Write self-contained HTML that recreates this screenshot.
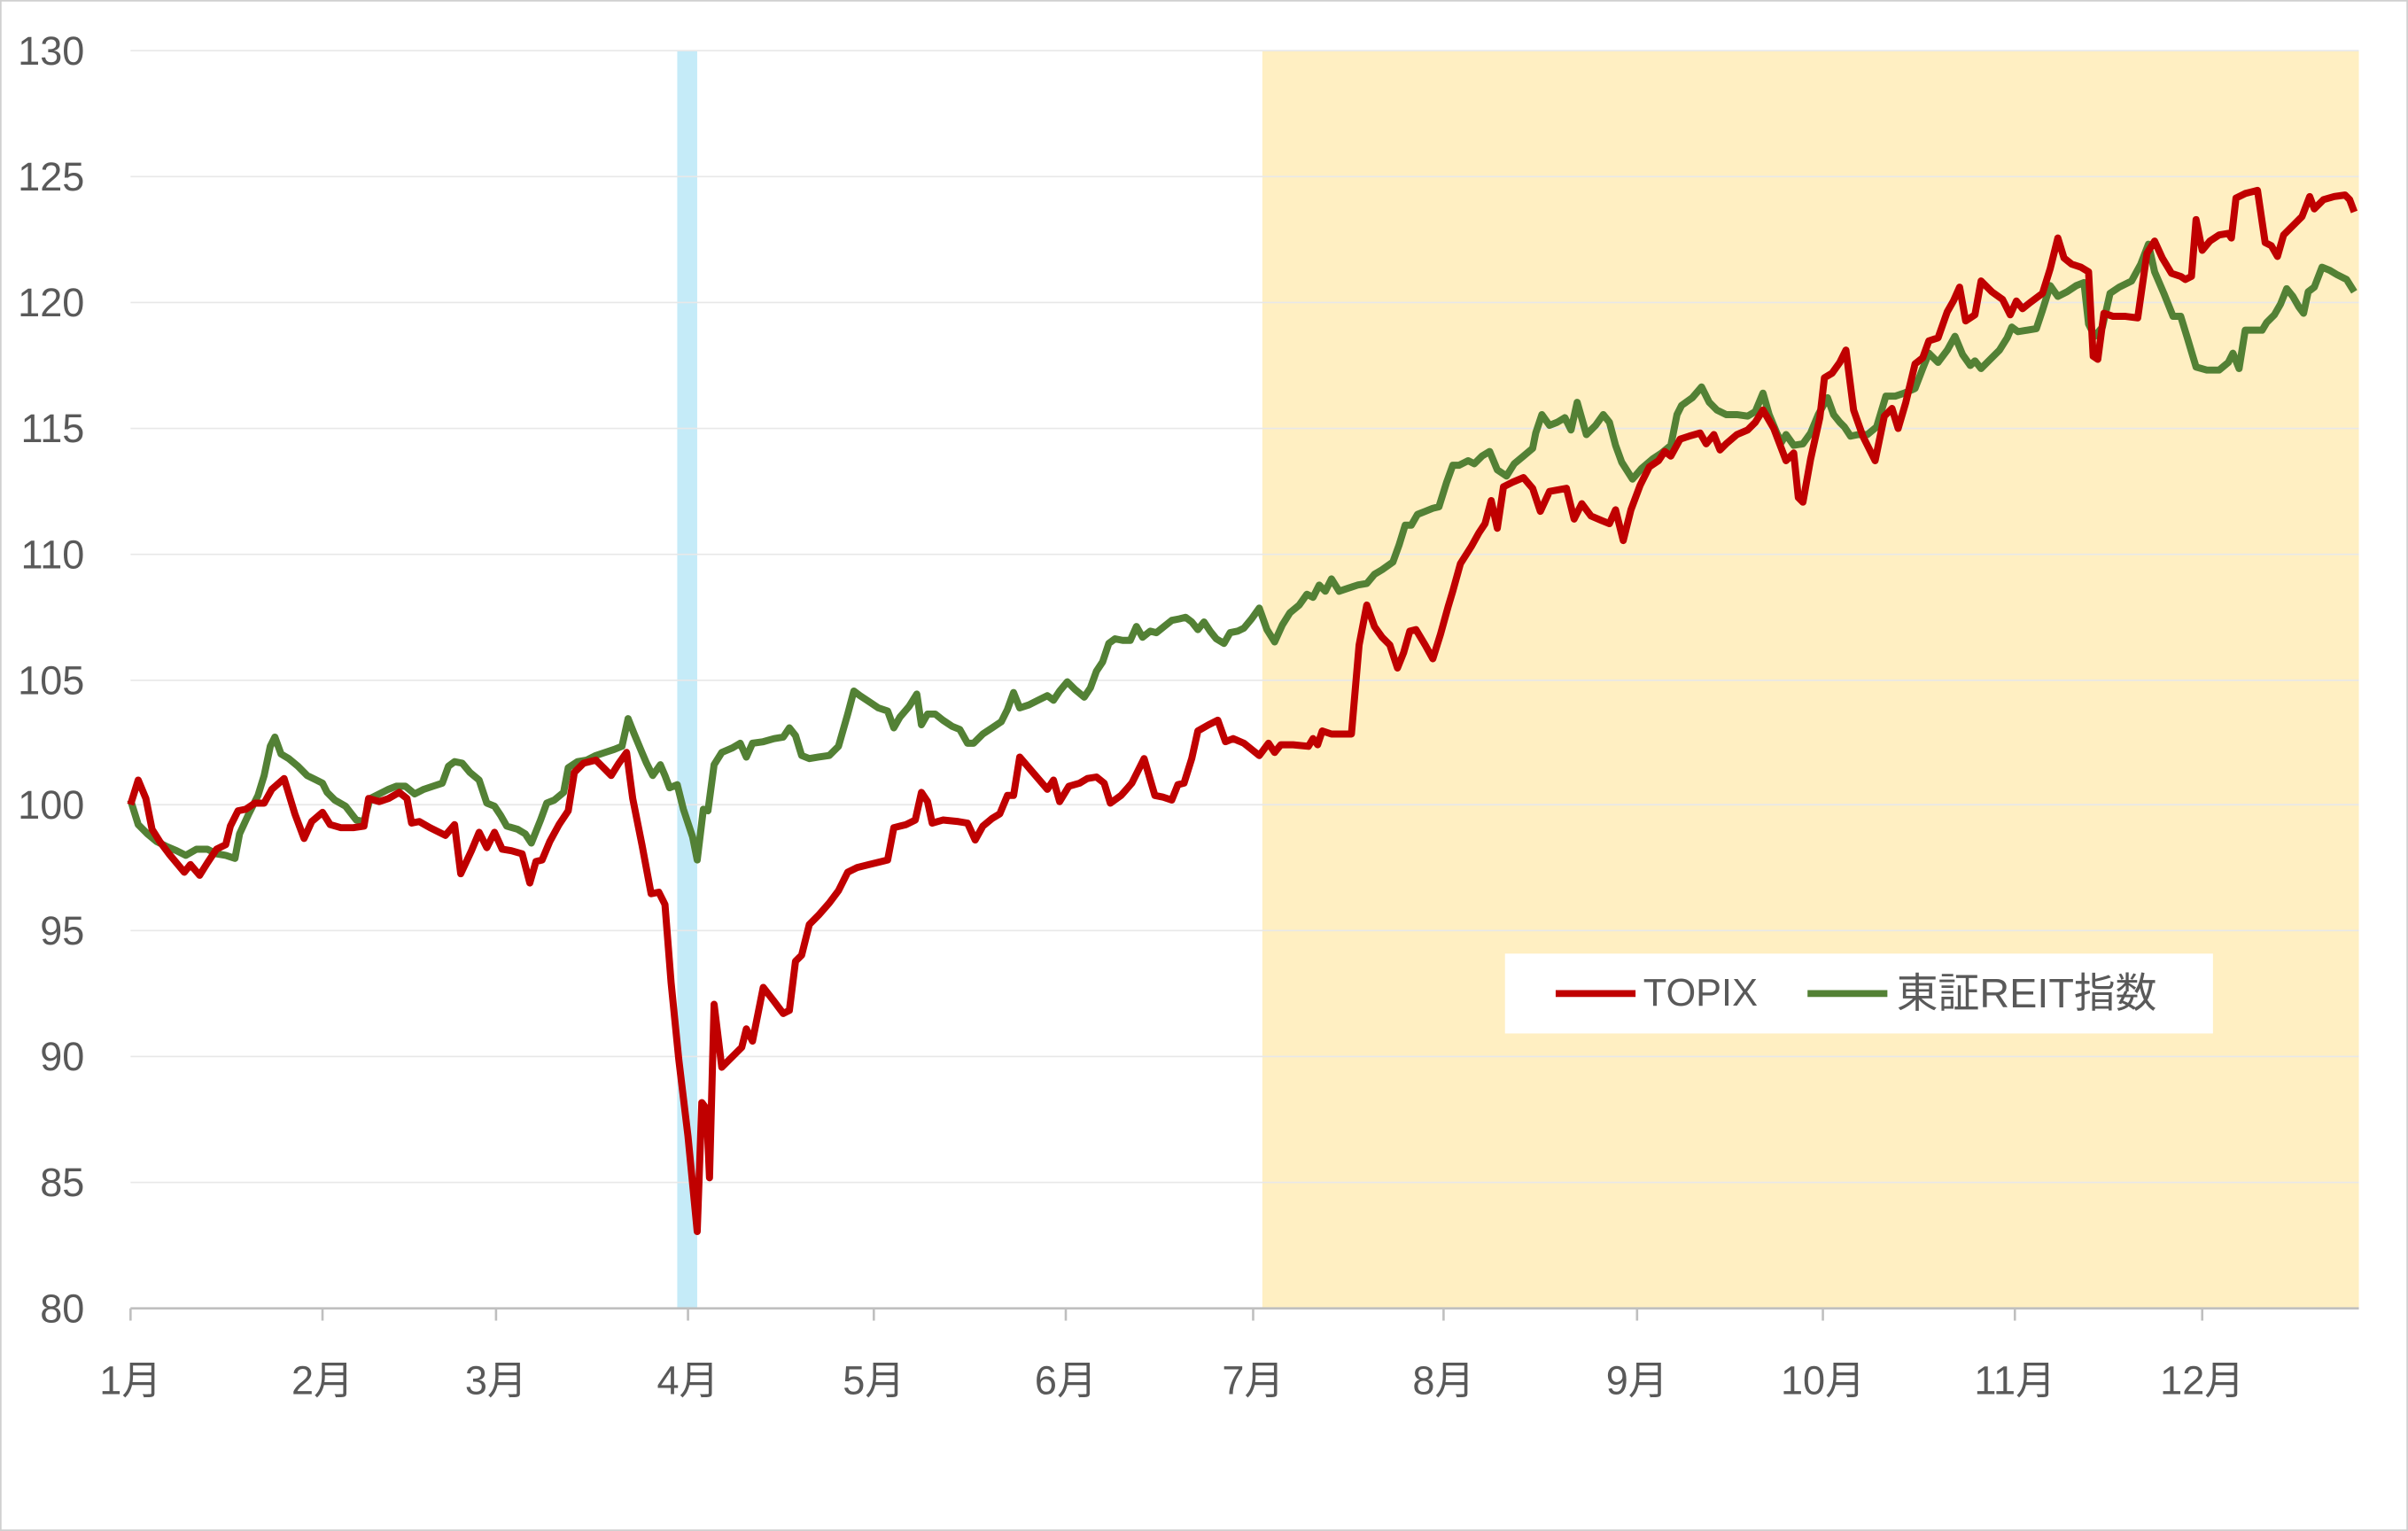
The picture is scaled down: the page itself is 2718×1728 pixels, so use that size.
<!DOCTYPE html>
<html><head><meta charset="utf-8"><style>
html,body{margin:0;padding:0;background:#fff;}
svg{display:block;}
text{font-family:"Liberation Sans","Noto Sans CJK JP",sans-serif;fill:#595959;}
</style></head><body>
<svg width="2718" height="1728" viewBox="0 0 1568 997" preserveAspectRatio="none" xmlns="http://www.w3.org/2000/svg">
<rect x="0.5" y="0.5" width="1567" height="996" fill="#fff" stroke="#d0d0d0" stroke-width="1"/>
<rect x="822" y="33" width="714" height="819" fill="#FFEFC2"/>
<rect x="441" y="33" width="13" height="819" fill="#C5EBF8"/>
<g stroke="#e8e8e8" stroke-width="1">
<line x1="85" y1="33" x2="1536" y2="33"/><line x1="85" y1="115" x2="1536" y2="115"/>
<line x1="85" y1="197" x2="1536" y2="197"/><line x1="85" y1="279" x2="1536" y2="279"/>
<line x1="85" y1="361" x2="1536" y2="361"/><line x1="85" y1="443" x2="1536" y2="443"/>
<line x1="85" y1="524" x2="1536" y2="524"/><line x1="85" y1="606" x2="1536" y2="606"/>
<line x1="85" y1="688" x2="1536" y2="688"/><line x1="85" y1="770" x2="1536" y2="770"/>
</g>
<line x1="85" y1="852" x2="1536" y2="852" stroke="#bfbfbf" stroke-width="1.5"/>
<g stroke="#bfbfbf" stroke-width="1.5">
<line x1="85" y1="852" x2="85" y2="860"/><line x1="210" y1="852" x2="210" y2="860"/><line x1="323" y1="852" x2="323" y2="860"/><line x1="448" y1="852" x2="448" y2="860"/><line x1="569" y1="852" x2="569" y2="860"/><line x1="694" y1="852" x2="694" y2="860"/><line x1="816" y1="852" x2="816" y2="860"/><line x1="940" y1="852" x2="940" y2="860"/><line x1="1066" y1="852" x2="1066" y2="860"/><line x1="1187" y1="852" x2="1187" y2="860"/><line x1="1312" y1="852" x2="1312" y2="860"/><line x1="1434" y1="852" x2="1434" y2="860"/>
</g>
<g font-size="26" text-anchor="end">
<text x="55" y="42">130</text><text x="55" y="124">125</text><text x="55" y="206">120</text><text x="55" y="288">115</text><text x="55" y="370">110</text><text x="55" y="452">105</text><text x="55" y="533">100</text><text x="55" y="615">95</text><text x="55" y="697">90</text><text x="55" y="779">85</text><text x="55" y="861">80</text>
</g>
<g font-size="26" text-anchor="middle">
<text x="85" y="908">1月</text><text x="210" y="908">2月</text><text x="323" y="908">3月</text><text x="448" y="908">4月</text><text x="569" y="908">5月</text><text x="694" y="908">6月</text><text x="816" y="908">7月</text><text x="940" y="908">8月</text><text x="1066" y="908">9月</text><text x="1187" y="908">10月</text><text x="1312" y="908">11月</text><text x="1434" y="908">12月</text>
</g>
<polyline fill="none" stroke="#538135" stroke-width="4.6" stroke-linejoin="round" points="85,521 90,537 96,543 102,548 108,551 115,554 121,557 128,553 135,553 141,556 147,557 153,559 156,543 162,530 168,518 172,505 176,486 179,480 183,491 188,494 194,499 200,505 206,508 210,510 213,516 218,521 225,525 232,534 237,535 241,520 247,517 253,514 258,512 264,512 270,517 276,514 282,512 288,510 292,499 296,496 301,497 306,503 312,508 317,523 322,525 326,531 330,538 337,540 342,543 346,549 352,534 356,523 361,521 367,516 370,500 376,496 382,495 388,492 394,490 400,488 405,486 409,468 413,478 418,490 421,497 425,505 430,498 433,505 436,513 441,511 445,527 451,545 454,560 458,527 461,528 465,498 470,490 477,487 482,484 486,493 490,484 497,483 504,481 510,480 514,474 518,479 522,492 527,494 533,493 540,492 546,486 552,465 556,450 560,453 566,457 572,461 578,463 582,474 586,467 592,460 597,452 600,472 604,465 609,465 614,469 620,473 625,475 630,484 634,484 640,478 646,474 652,470 656,462 660,451 664,461 670,459 676,456 682,453 686,456 690,450 695,444 700,449 706,454 710,448 714,437 718,431 722,419 726,416 731,417 736,417 740,408 744,415 749,411 753,412 758,408 763,404 768,403 772,402 776,405 780,410 784,405 788,411 792,416 797,419 801,412 806,411 810,409 815,403 820,396 825,410 830,418 835,407 840,399 846,394 851,387 855,389 859,381 863,385 867,377 872,385 878,383 884,381 890,380 895,374 900,371 907,366 911,355 915,342 919,342 923,335 928,333 933,331 937,330 942,314 946,303 950,303 956,300 960,302 965,297 970,294 975,306 981,310 986,302 992,297 998,292 1000,282 1004,270 1009,277 1014,275 1019,272 1023,280 1027,262 1033,283 1039,277 1044,270 1048,275 1052,290 1056,301 1063,312 1069,305 1076,299 1082,295 1088,290 1092,270 1095,264 1102,259 1108,252 1113,262 1118,267 1124,270 1131,270 1138,271 1143,268 1148,256 1152,270 1157,282 1160,288 1163,283 1168,290 1174,289 1179,282 1184,270 1190,259 1194,270 1198,275 1201,278 1205,284 1210,283 1216,283 1222,278 1228,258 1234,258 1240,256 1247,253 1252,240 1256,230 1262,236 1268,228 1273,219 1278,231 1283,238 1286,235 1290,240 1297,233 1302,228 1307,220 1310,213 1314,216 1320,215 1326,214 1330,202 1335,186 1340,193 1346,190 1352,186 1357,184 1360,211 1364,219 1369,213 1374,191 1380,187 1388,183 1394,172 1399,159 1403,177 1409,191 1415,206 1420,206 1424,219 1430,239 1437,241 1445,241 1451,236 1454,230 1458,240 1462,215 1468,215 1473,215 1476,210 1481,205 1485,198 1489,188 1493,193 1497,200 1500,204 1503,190 1507,187 1512,174 1517,176 1522,179 1528,182 1533,190"/>
<polyline fill="none" stroke="#C00000" stroke-width="4.6" stroke-linejoin="round" points="85,524 90,508 95,520 99,540 104,548 110,556 115,562 120,568 124,563 130,570 135,562 141,553 147,550 150,538 155,528 160,527 166,523 172,523 177,514 185,507 192,530 198,546 203,535 210,529 215,537 222,539 230,539 237,538 240,520 247,522 253,520 260,516 265,520 268,536 273,535 280,539 290,544 296,537 300,569 307,554 312,542 317,552 322,542 327,553 333,554 340,556 345,575 349,561 353,560 358,548 364,537 370,528 374,503 380,497 388,495 393,500 398,505 403,497 408,490 412,520 418,550 424,582 429,581 433,589 437,640 442,690 448,740 454,802 457,718 460,722 462,767 465,654 470,695 477,688 483,682 486,670 490,678 497,643 504,652 510,660 514,658 518,626 522,622 527,602 533,596 540,588 546,580 552,568 558,565 566,563 574,561 578,560 582,539 590,537 596,534 600,516 604,522 607,536 614,534 624,535 630,536 635,547 640,538 646,533 651,530 656,518 660,518 664,493 670,500 676,507 682,514 686,508 690,522 696,512 703,510 708,507 714,506 719,510 723,523 730,518 737,510 745,494 752,518 757,519 763,521 767,511 771,510 776,494 780,476 787,472 793,469 798,483 803,481 810,484 815,488 820,492 826,484 830,490 834,485 842,485 852,486 855,481 858,485 861,476 867,478 880,478 885,420 890,394 895,408 900,415 905,420 910,435 914,425 918,411 922,410 928,420 933,429 938,413 943,395 946,385 951,367 958,356 963,347 967,341 971,326 975,344 979,317 985,314 992,311 998,318 1003,333 1009,320 1020,318 1025,338 1030,328 1036,336 1043,339 1048,341 1052,332 1057,352 1062,332 1068,316 1074,304 1080,300 1084,294 1088,297 1094,286 1100,284 1107,282 1111,289 1116,283 1120,293 1124,289 1131,283 1138,280 1143,275 1148,267 1155,279 1163,300 1168,295 1171,324 1174,327 1179,299 1185,272 1188,246 1193,243 1198,236 1202,228 1207,267 1213,284 1221,300 1227,271 1232,266 1236,279 1241,262 1247,237 1252,233 1256,222 1262,220 1268,203 1272,196 1276,187 1280,209 1286,205 1290,183 1297,190 1304,195 1309,205 1313,196 1317,201 1322,197 1330,191 1335,175 1340,155 1344,168 1349,172 1355,174 1360,177 1363,232 1366,234 1370,204 1376,206 1384,206 1392,207 1398,165 1403,157 1408,168 1414,178 1420,180 1423,182 1427,180 1430,143 1434,163 1439,157 1445,153 1451,152 1453,155 1456,129 1462,126 1470,124 1475,158 1479,160 1483,167 1487,153 1494,146 1499,141 1504,128 1507,136 1513,130 1520,128 1527,127 1530,130 1533,138"/>
<rect x="980" y="621" width="461" height="52" fill="#fff"/>
<line x1="1013" y1="647" x2="1065" y2="647" stroke="#C00000" stroke-width="4.5"/>
<text x="1070" y="655" font-size="25">TOPIX</text>
<line x1="1177" y1="647" x2="1229" y2="647" stroke="#538135" stroke-width="4.5"/>
<text x="1235" y="656" font-size="27">東証REIT指数</text>
</svg>
</body></html>
